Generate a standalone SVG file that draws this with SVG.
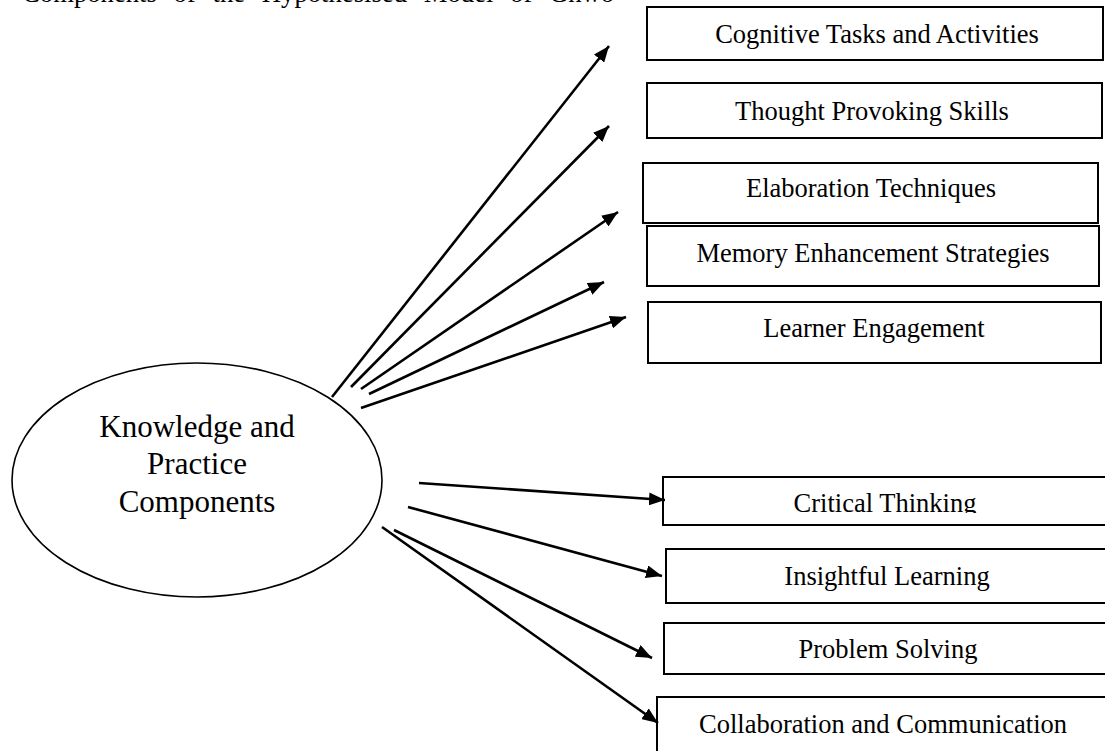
<svg xmlns="http://www.w3.org/2000/svg" width="1105" height="751" viewBox="0 0 1105 751">
  <style>
    .box { fill: #ffffff; stroke: #000000; stroke-width: 2; }
    .lbl { font-family: "Liberation Serif", "Times New Roman", serif; font-size: 26.5px; fill: #000000; text-anchor: middle; }
    .big { font-family: "Liberation Serif", "Times New Roman", serif; font-size: 31px; fill: #000000; text-anchor: middle; }
    .title { font-family: "Liberation Serif", "Times New Roman", serif; font-size: 26.7px; fill: #000000; word-spacing: 10px; }
    .conn { stroke: #000000; stroke-width: 2.6; fill: none; marker-end: url(#arrow); }
  </style>
  <defs>
    <marker id="arrow" viewBox="0 0 16 13" refX="16" refY="6.5" markerWidth="16" markerHeight="13" markerUnits="userSpaceOnUse" orient="auto">
      <path d="M0,0 L16,6.5 L0,13 z" fill="#000000"/>
    </marker>
    <clipPath id="ctclip">
      <rect x="660" y="470" width="450" height="43"/>
    </clipPath>
  </defs>
  <rect x="0" y="0" width="1105" height="751" fill="#ffffff"/>

  <text class="title" x="22" y="2">Components of the Hypothesised Model of Ghwo</text>

  <g id="center">
    <ellipse cx="197" cy="480" rx="185" ry="117" fill="#ffffff" stroke="#000000" stroke-width="1.6"/>
    <text class="big" x="197" y="437">Knowledge and</text>
    <text class="big" x="197" y="474">Practice</text>
    <text class="big" x="197" y="512">Components</text>
  </g>

  <g id="n1">
    <rect class="box" x="647" y="7" width="456" height="53"/>
    <text class="lbl" x="877" y="43">Cognitive Tasks and Activities</text>
  </g>
  <g id="n2">
    <rect class="box" x="647" y="83" width="455" height="55"/>
    <text class="lbl" x="872" y="120">Thought Provoking Skills</text>
  </g>
  <g id="n3">
    <rect class="box" x="643" y="163" width="455" height="60"/>
    <text class="lbl" x="871" y="197">Elaboration Techniques</text>
  </g>
  <g id="n4">
    <rect class="box" x="647" y="226" width="452" height="60"/>
    <text class="lbl" x="873" y="262">Memory Enhancement Strategies</text>
  </g>
  <g id="n5">
    <rect class="box" x="648" y="302" width="453" height="61"/>
    <text class="lbl" x="874" y="337">Learner Engagement</text>
  </g>
  <g id="n6">
    <rect class="box" x="663" y="477" width="450" height="48"/>
    <text class="lbl" x="885" y="512" clip-path="url(#ctclip)">Critical Thinking</text>
  </g>
  <g id="n7">
    <rect class="box" x="666" y="549" width="450" height="54"/>
    <text class="lbl" x="887" y="585">Insightful Learning</text>
  </g>
  <g id="n8">
    <rect class="box" x="664" y="623" width="450" height="51"/>
    <text class="lbl" x="888" y="658">Problem Solving</text>
  </g>
  <g id="n9">
    <rect class="box" x="657" y="697" width="460" height="70"/>
    <text class="lbl" x="883" y="733">Collaboration and Communication</text>
  </g>

  <g id="connectors">
    <line class="conn" x1="332" y1="397" x2="609" y2="46"/>
    <line class="conn" x1="351" y1="387" x2="609" y2="126"/>
    <line class="conn" x1="361" y1="389" x2="618" y2="212"/>
    <line class="conn" x1="369" y1="394" x2="604" y2="282"/>
    <line class="conn" x1="361" y1="408" x2="626" y2="317"/>
    <line class="conn" x1="419" y1="483" x2="665" y2="500"/>
    <line class="conn" x1="408" y1="507" x2="662" y2="576"/>
    <line class="conn" x1="394" y1="530" x2="652" y2="658"/>
    <line class="conn" x1="382" y1="527" x2="658" y2="723"/>
  </g>
</svg>
